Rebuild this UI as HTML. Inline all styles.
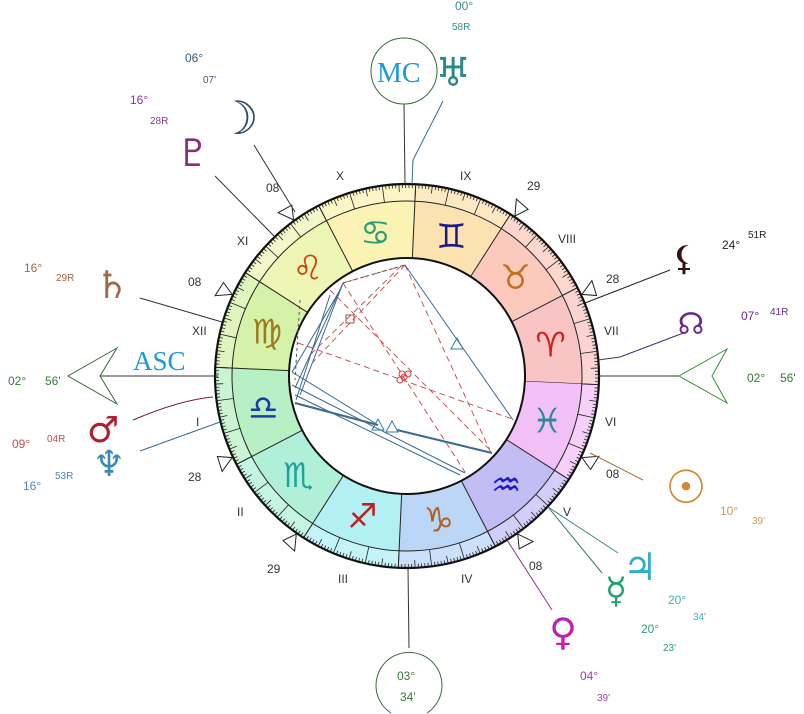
<!DOCTYPE html>
<html><head><meta charset="utf-8"><style>
html,body{margin:0;padding:0;background:#fff;}
svg{display:block;}
text{font-family:"Liberation Sans","DejaVu Sans",sans-serif;}
.g text{font-family:"DejaVu Sans",sans-serif;}
</style></head><body>
<svg id="s" width="804" height="714" viewBox="0 0 804 714" xmlns="http://www.w3.org/2000/svg">
<g id="wheel"></g>
<g id="inner" fill="none" stroke-width="1">
 <g stroke="#b03030" stroke-dasharray="6,4" opacity="0.8">
  <line x1="405" y1="265" x2="313" y2="362"/>
  <line x1="401" y1="266" x2="309" y2="356"/>
  <line x1="343" y1="283" x2="465" y2="472"/>
  <line x1="298" y1="343" x2="515" y2="420"/>
  <line x1="405" y1="265" x2="492" y2="455"/>
  <line x1="330" y1="290" x2="490" y2="450"/>
  <line x1="343" y1="283" x2="405" y2="265"/>
 </g>
 <g stroke="#3a6a90">
  <line x1="405" y1="265" x2="513" y2="420"/>
  <line x1="292" y1="372" x2="378" y2="425"/>
  <line x1="397" y1="430" x2="492" y2="453" stroke-width="2"/>
  <line x1="295" y1="403" x2="378" y2="425" stroke-width="2"/>
  <line x1="292" y1="385" x2="465" y2="473"/>
  <line x1="295" y1="395" x2="460" y2="475"/>
  <line x1="343" y1="283" x2="295" y2="388"/>
  <line x1="340" y1="290" x2="292" y2="372"/>
  <line x1="330" y1="295" x2="296" y2="400"/>
  <line x1="343" y1="283" x2="300" y2="395"/>
 </g>
 <g stroke="#555" stroke-dasharray="3,3">
  <line x1="343" y1="283" x2="405" y2="265"/>
  <line x1="300" y1="300" x2="295" y2="380"/>
 </g>
 <path d="M451,349 L457,338 L463,349 Z" stroke="#3a7aa0"/>
 <path d="M372,430 L378,419 L384,430 Z" stroke="#3a7aa0"/>
 <path d="M386,432 L392,421 L398,432 Z" stroke="#3a7aa0"/>
 <rect x="346" y="315" width="8" height="8" stroke="#c04040"/>
 <g stroke="#d04040"><circle cx="400" cy="380" r="3"/><circle cx="404" cy="377" r="3"/><circle cx="408" cy="374" r="3"/><circle cx="402" cy="374" r="3"/></g>
</g>
<g stroke="#333" stroke-width="1" fill="none">
 <line x1="218" y1="376" x2="100" y2="376"/>
 <polygon points="117,348 68,376 117,404 100,376" stroke="#3a6a3a" fill="#fff"/>
 <line x1="598" y1="376" x2="680" y2="376"/>
 <polygon points="727,349 679,376 727,403 712,376" stroke="#3a8a3a" fill="#fff"/>
 <line x1="404" y1="104" x2="405" y2="184"/>
 <circle cx="404" cy="71" r="33" stroke="#3a6a3a"/>
 <line x1="408" y1="568" x2="409" y2="648"/>
 <path d="M391,713 A33,33 0 1 1 427,713" stroke="#3a6a3a"/>
</g>
<g fill="none" stroke-width="1">
 <line x1="254" y1="145" x2="295" y2="212" stroke="#333"/>
 <line x1="215" y1="176" x2="276" y2="238" stroke="#333"/>
 <line x1="140" y1="298" x2="222" y2="322" stroke="#333"/>
 <path d="M133,420 Q180,400 213,397" stroke="#7a2030"/>
 <line x1="140" y1="451" x2="220" y2="422" stroke="#3a6a90"/>
 <path d="M443,101 L413,160 L412,184" stroke="#3a6a90"/>
 <line x1="670" y1="270" x2="585" y2="303" stroke="#222"/>
 <path d="M686,332 L620,357 L598,360" stroke="#4a2a6a"/>
 <line x1="643" y1="480" x2="590" y2="453" stroke="#a07030"/>
 <line x1="618" y1="553" x2="548" y2="507" stroke="#3a8a8a"/>
 <line x1="602" y1="573" x2="548" y2="507" stroke="#3a7a6a"/>
 <line x1="552" y1="610" x2="507" y2="540" stroke="#8a3a8a"/>
</g>
<g font-size="12" fill="#333">
 <text x="266" y="192">08</text><text x="527" y="190">29</text><text x="606" y="283">28</text>
 <text x="188" y="286">08</text><text x="188" y="481">28</text><text x="267" y="573">29</text>
 <text x="529" y="570">08</text><text x="606" y="478">08</text>
 <text x="336" y="180">X</text><text x="460" y="180">IX</text><text x="558" y="243">VIII</text>
 <text x="604" y="335">VII</text><text x="605" y="426">VI</text><text x="563" y="516">V</text>
 <text x="461" y="583">IV</text><text x="338" y="583">III</text><text x="237" y="516">II</text>
 <text x="196" y="426">I</text><text x="192" y="335">XII</text><text x="237" y="245">XI</text>
</g>
<text x="133" y="370" style="font-family:'Liberation Serif',serif;font-size:27px" fill="#1a9ad8">ASC</text>
<text x="377" y="82" style="font-family:'Liberation Serif',serif;font-size:28px" fill="#1a9ad8">MC</text>
<g font-size="12">
 <text x="8" y="385" fill="#3a7a3a">02°</text><text x="45" y="385" fill="#3a7a3a">56'</text>
 <text x="747" y="382" fill="#3a7a3a">02°</text><text x="780" y="382" fill="#3a7a3a">56'</text>
 <text x="397" y="680" fill="#3a7a3a">03°</text><text x="400" y="701" fill="#3a7a3a">34'</text>
 <text x="185" y="62" fill="#3a5a7a">06°</text><text x="203" y="83" fill="#3a5a7a" font-size="10">07'</text>
 <text x="130" y="104" fill="#8a3a8a">16°</text><text x="150" y="124" fill="#8a3a8a" font-size="10">28R</text>
 <text x="24" y="272" fill="#a06a4a">16°</text><text x="56" y="281" fill="#a06a4a" font-size="10">29R</text>
 <text x="12" y="448" fill="#c05050">09°</text><text x="47" y="442" fill="#c05050" font-size="10">04R</text>
 <text x="23" y="490" fill="#4a8ab8">16°</text><text x="55" y="479" fill="#4a8ab8" font-size="10">53R</text>
 <text x="455" y="10" fill="#3a8a8a">00°</text><text x="452" y="30" fill="#3a8a8a" font-size="10">58R</text>
 <text x="722" y="249" fill="#222">24°</text><text x="748" y="238" fill="#222" font-size="10">51R</text>
 <text x="741" y="320" fill="#6a2a8a">07°</text><text x="770" y="315" fill="#6a2a8a" font-size="10">41R</text>
 <text x="720" y="515" fill="#d09a50">10°</text><text x="752" y="524" fill="#d09a50" font-size="10">39'</text>
 <text x="668" y="604" fill="#40b0c0">20°</text><text x="693" y="620" fill="#40b0c0" font-size="10">34'</text>
 <text x="641" y="633" fill="#30a080">20°</text><text x="663" y="651" fill="#30a080" font-size="10">23'</text>
 <text x="580" y="680" fill="#a040a0">04°</text><text x="597" y="701" fill="#a040a0" font-size="10">39'</text>
</g>
<g class="g" text-anchor="middle">
 <text x="238" y="134" style="font-size:46px" fill="#2a4a6a">☽</text>
 <text x="193" y="166" style="font-size:38px" fill="#8a2a7a">♇</text>
 <text x="112" y="298" style="font-size:38px" fill="#a06a4a">♄</text>
 <text x="103" y="442" style="font-size:36px" fill="#b02030">♂</text>
 <text x="109" y="476" style="font-size:36px" fill="#3a8ab8">♆</text>
 <text x="453" y="86" style="font-size:40px" fill="#2a8a8a">♅</text>
 <text x="684" y="270" style="font-size:34px" fill="#3a1010">⚸</text>
 <text x="691" y="334" style="font-size:30px" fill="#6a2a8a">☊</text>
 <text x="686" y="503" style="font-size:46px" fill="#d08a30">☉</text>
 <text x="640" y="580" style="font-size:38px" fill="#30b0c0">♃</text>
 <text x="616" y="603" style="font-size:36px" fill="#20a070">☿</text>
 <text x="563" y="645" style="font-size:38px" fill="#c020b0">♀</text>
</g>
<script>
(function(){
var NS="http://www.w3.org/2000/svg",g=document.getElementById("wheel");
var cx=407,cy=376,R=192,R2=175,R1=118,th0=-2.6;
function P(L,r){var a=(th0+L)*Math.PI/180;return [cx+r*Math.cos(a),cy-r*Math.sin(a)];}
function el(n,a){var e=document.createElementNS(NS,n);for(var k in a)e.setAttribute(k,a[k]);g.appendChild(e);return e;}
var cols=["#f8c4c4","#fccabc","#fbe2b0","#fbf3b4","#eef6b6","#d6f2a8","#b8f0c6","#b0f0d8","#b2f0f4","#bcd6f8","#c2bef4","#f2c0f6"];
var gl=["♈","♉","♊","♋","♌","♍","♎","♏","♐","♑","♒","♓"];
var gc=["#d02020","#c07020","#1a1a8a","#2a9a7a","#d04010","#a07820","#1a3aaa","#20a0a0","#c02020","#b06020","#1a1acc","#2a8a9a"];
function arc(L1,L2,ro,ri){var a=P(L1,ro),b=P(L2,ro),c=P(L2,ri),d=P(L1,ri);
 return "M"+a+" A"+ro+","+ro+" 0 0 0 "+b+" L"+c+" A"+ri+","+ri+" 0 0 1 "+d+" Z";}
for(var i=0;i<12;i++){
 el("path",{d:arc(30*i,30*i+30,R,R2),fill:cols[i],opacity:"0.75"});
 el("path",{d:arc(30*i,30*i+30,R2,R1),fill:cols[i]});
 var p=P(30*i+15,147);var t=el("text",{x:p[0],y:p[1]+12,"text-anchor":"middle",fill:gc[i],"font-weight":"bold",style:"font-family:'DejaVu Sans',sans-serif;font-size:34px"});t.textContent=gl[i]+"\uFE0E";
 var a=P(30*i,R1),b=P(30*i,R);el("line",{x1:a[0],y1:a[1],x2:b[0],y2:b[1],stroke:"#222","stroke-width":"1"});
}
for(var d=0;d<360;d++){var len=d%10==0?17:(d%5==0?8:4);var a=P(d,R),b=P(d,R-len);
 el("line",{x1:a[0],y1:a[1],x2:b[0],y2:b[1],stroke:"#222","stroke-width":"0.8"});}
el("circle",{cx:cx,cy:cy,r:R2,fill:"none",stroke:"#222","stroke-width":"1"});
el("circle",{cx:cx,cy:cy,r:R1,fill:"#fff",stroke:"#111","stroke-width":"2"});
el("circle",{cx:cx,cy:cy,r:R,fill:"none",stroke:"#111","stroke-width":"2.2"});
var cusps=[126,56,25,155,205,235,305,335];
cusps.forEach(function(a){var r=Math.PI/180*a;
 function Q(rr,off){var b=r+off;return [cx+rr*Math.cos(b),cy-rr*Math.sin(b)];}
 var t=Q(193,0),u=Q(208,0.04),v=Q(206,-0.035);
 el("polygon",{points:t+" "+u+" "+v,fill:"#fff",stroke:"#222","stroke-width":"1"});});
})();
</script>
</svg>
</body></html>
